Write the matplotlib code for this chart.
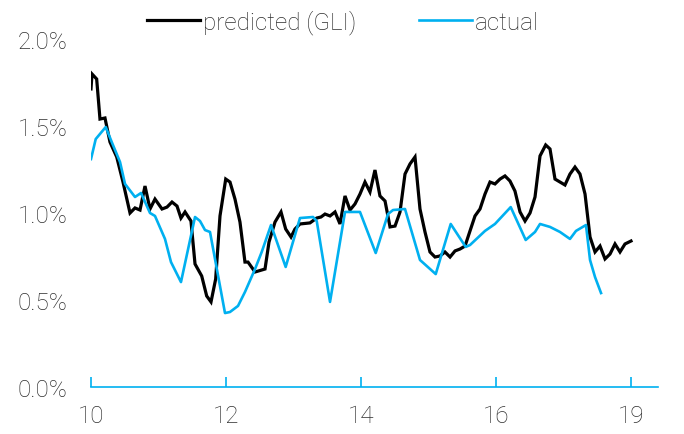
import matplotlib
matplotlib.use("Agg")
import matplotlib.pyplot as plt
from matplotlib.ticker import FuncFormatter

# ---- data ----
pred_t = [10.000, 10.015, 10.084, 10.133, 10.207, 10.281, 10.381, 10.474, 10.578, 10.652,
          10.726, 10.800, 10.874, 10.948, 11.052, 11.126, 11.200, 11.274, 11.333, 11.393,
          11.481, 11.541, 11.640, 11.714, 11.778, 11.847, 11.911, 11.996, 12.059, 12.133,
          12.207, 12.281, 12.326, 12.430, 12.578, 12.637, 12.726, 12.815, 12.884, 12.963,
          13.022, 13.096, 13.244, 13.344, 13.407, 13.467, 13.541, 13.615, 13.689, 13.763,
          13.837, 13.911, 13.985, 14.059, 14.133, 14.207, 14.281, 14.356, 14.430, 14.504,
          14.578, 14.652, 14.726, 14.800, 14.874, 14.948, 15.022, 15.096, 15.170, 15.244,
          15.319, 15.393, 15.467, 15.541, 15.615, 15.689, 15.763, 15.837, 15.911, 15.985,
          16.059, 16.133, 16.207, 16.281, 16.356, 16.430, 16.504, 16.578, 16.652, 16.736,
          16.800, 16.874, 16.948, 17.022, 17.096, 17.170, 17.244, 17.319, 17.393, 17.467,
          17.541, 17.615, 17.689, 17.763, 17.837, 17.911, 18.000]
pred_v = [1.713, 1.799, 1.770, 1.540, 1.546, 1.408, 1.322, 1.178, 1.000, 1.029,
          1.017, 1.155, 1.023, 1.080, 1.023, 1.034, 1.063, 1.040, 0.971, 1.006,
          0.954, 0.707, 0.638, 0.523, 0.489, 0.621, 0.983, 1.195, 1.178, 1.080,
          0.948, 0.718, 0.718, 0.661, 0.678, 0.833, 0.948, 1.006, 0.908, 0.862,
          0.908, 0.937, 0.943, 0.971, 0.977, 0.994, 0.983, 1.006, 0.937, 1.098,
          1.017, 1.052, 1.109, 1.178, 1.121, 1.247, 1.098, 1.069, 0.920, 0.925,
          1.006, 1.224, 1.282, 1.322, 1.023, 0.891, 0.776, 0.747, 0.753, 0.776,
          0.747, 0.782, 0.793, 0.810, 0.897, 0.983, 1.023, 1.109, 1.178, 1.167,
          1.195, 1.213, 1.184, 1.126, 1.006, 0.954, 1.000, 1.092, 1.328, 1.391,
          1.368, 1.195, 1.178, 1.161, 1.224, 1.264, 1.224, 1.109, 0.862, 0.776,
          0.810, 0.736, 0.764, 0.822, 0.776, 0.822, 0.839]

act_t = [10.000, 10.070, 10.218, 10.307, 10.430, 10.504, 10.652, 10.741, 10.874, 10.948,
         11.096, 11.185, 11.333, 11.541, 11.615, 11.689, 11.763, 11.985, 12.059, 12.178,
         12.281, 12.430, 12.529, 12.667, 12.884, 13.096, 13.289, 13.344, 13.541, 13.763,
         13.985, 14.218, 14.400, 14.474, 14.652, 14.874, 15.107, 15.329, 15.551, 15.615,
         15.837, 15.985, 16.218, 16.440, 16.578, 16.652, 16.800, 16.948, 17.096, 17.185,
         17.333, 17.393, 17.467, 17.556]
act_v = [1.310, 1.425, 1.494, 1.408, 1.293, 1.167, 1.092, 1.115, 1.000, 0.983,
         0.851, 0.718, 0.603, 0.977, 0.954, 0.902, 0.891, 0.425, 0.431, 0.466,
         0.546, 0.678, 0.776, 0.931, 0.690, 0.971, 0.977, 0.954, 0.489, 1.006,
         1.006, 0.770, 0.994, 1.017, 1.023, 0.730, 0.649, 0.937, 0.805, 0.816,
         0.897, 0.937, 1.034, 0.845, 0.891, 0.937, 0.920, 0.891, 0.851, 0.897,
         0.931, 0.730, 0.632, 0.540]

xticks = [10, 12, 14, 16, 18]
xtick_labels = ["10", "12", "14", "16", "19"]
yticks = [0.0, 0.5, 1.0, 1.5, 2.0]

BLUE = "#00B0F0"
TXT = "#2e2e2e"
FONT = ["Roboto", "DejaVu Sans"]
FS = 17.5

plt.rcParams["font.family"] = FONT
plt.rcParams["font.weight"] = "light"

fig = plt.figure(figsize=(6.84, 4.35), dpi=100)
W, H = 684, 435
ax = fig.add_axes([91 / W, (H - 388) / H, (658 - 91) / W, (388 - 40) / H])

ax.plot(pred_t, pred_v, color="black", lw=2.3, label="predicted (GLI)", solid_joinstyle="miter")
ax.plot(act_t, act_v, color=BLUE, lw=1.9, label="actual")

ax.set_xlim(10, 18.4)
ax.set_ylim(0, 2.0)
ax.set_xticks(xticks)
ax.set_xticklabels(xtick_labels)
ax.set_yticks(yticks)
ax.yaxis.set_major_formatter(FuncFormatter(lambda v, p: f"{v:.1f}%"))

for s in ["top", "right", "left"]:
    ax.spines[s].set_visible(False)
ax.spines["bottom"].set_color(BLUE)
ax.spines["bottom"].set_linewidth(1.2)

ax.tick_params(axis="x", direction="in", length=7, width=1.2, color=BLUE,
               labelsize=FS, labelcolor=TXT, pad=12)
ax.tick_params(axis="y", length=0, labelsize=FS, labelcolor=TXT, pad=17)
for lab in ax.get_xticklabels() + ax.get_yticklabels():
    lab.set_fontweight("light")

leg = ax.legend(loc="center", bbox_to_anchor=(0.444, (388 - 23) / (388 - 40)),
                ncol=2, frameon=False, fontsize=FS, handlelength=2.2,
                handletextpad=0.1, columnspacing=2.6, borderaxespad=0)
for t in leg.get_texts():
    t.set_color(TXT)
    t.set_fontweight("light")

fig.savefig("out.png", dpi=100)
